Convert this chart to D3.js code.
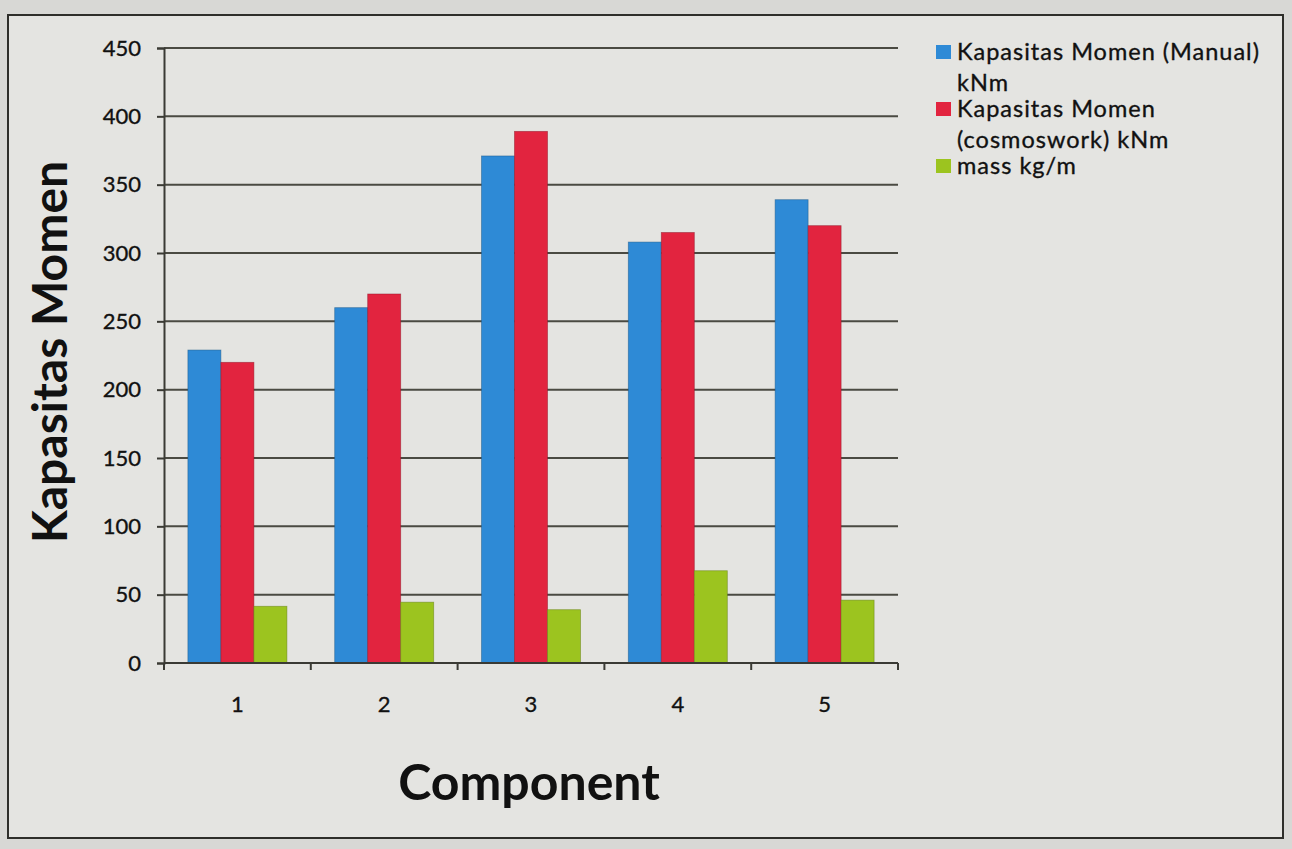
<!DOCTYPE html>
<html>
<head>
<meta charset="utf-8">
<script src="https://cdn.jsdelivr.net/npm/d3@7"></script>
<style>
  html, body { margin: 0; padding: 0; background: #d8d8d5; }
  svg { display: block; }
  text { font-family: Lato, "Open Sans", sans-serif; fill: #111; }
</style>
</head>
<body>
<svg id="chart" width="1292" height="849"></svg>
<script>
// Components along the x axis
const categories = ["1", "2", "3", "4", "5"];

// Series values
const manualMoment = [229, 260, 371, 308, 339];      // Kapasitas Momen (Manual) kNm
const cosmosMoment = [220, 270, 389, 315, 320];      // Kapasitas Momen (cosmoswork) kNm
const massPerMeter = [41.5, 44.5, 39, 67.5, 46];     // mass kg/m

// Y axis ticks
const yTicks = [0, 50, 100, 150, 200, 250, 300, 350, 400, 450];

const seriesNames = [
  ["Kapasitas Momen (Manual)", "kNm"],
  ["Kapasitas Momen", "(cosmoswork) kNm"],
  ["mass kg/m"]
];
const seriesColors = ["#2e8ad6", "#e2243f", "#9cc41f"];

const svg = d3.select("#chart");

// chart frame
svg.append("rect")
  .attr("x", 8).attr("y", 15)
  .attr("width", 1275).attr("height", 823)
  .attr("fill", "#e4e4e1")
  .attr("stroke", "#2e2e2a").attr("stroke-width", 2);

const plot = { left: 164, right: 898, top: 48, bottom: 663 };

const x0 = d3.scaleBand()
  .domain(categories)
  .range([plot.left, plot.right])
  .paddingInner(0).paddingOuter(0);

const barW = 33;
const x1 = d3.scaleBand()
  .domain([0, 1, 2])
  .range([0, barW * 3]);

const y = d3.scaleLinear()
  .domain([0, 450])
  .range([plot.bottom, plot.top]);

// gridlines
svg.append("g")
  .selectAll("line")
  .data(yTicks)
  .join("line")
  .attr("x1", plot.left).attr("x2", plot.right)
  .attr("y1", d => y(d)).attr("y2", d => y(d))
  .attr("stroke", "#4a4a42").attr("stroke-width", 2);

// bars
const groupOffset = (x0.bandwidth() - barW * 3) / 2;
const series = [manualMoment, cosmosMoment, massPerMeter];
series.forEach((vals, si) => {
  svg.append("g")
    .selectAll("rect")
    .data(vals)
    .join("rect")
    .attr("x", (d, i) => x0(categories[i]) + groupOffset + x1(si))
    .attr("y", d => y(d))
    .attr("width", x1.bandwidth())
    .attr("height", d => y(0) - y(d))
    .attr("fill", seriesColors[si])
    .attr("stroke", d3.color(seriesColors[si]).darker(1.2))
    .attr("stroke-width", 0.8)
    .attr("stroke-opacity", 0.6);
});

// y axis
const yAxis = d3.axisLeft(y)
  .tickValues(yTicks)
  .tickSize(7)
  .tickPadding(16)
  .tickFormat(d3.format("d"));
const gy = svg.append("g")
  .attr("transform", `translate(${plot.left},0)`)
  .call(yAxis);
gy.select(".domain").attr("stroke", "#3a3a34").attr("stroke-width", 2);
gy.selectAll(".tick line").attr("stroke", "#3a3a34").attr("stroke-width", 2);
gy.selectAll(".tick text")
  .attr("font-size", 22)
  .attr("font-family", "Lato, sans-serif")
  .attr("fill", "#111")
  .attr("stroke", "#111").attr("stroke-width", 0.35);

// x axis: ticks at group boundaries
const gx = svg.append("g")
  .attr("transform", `translate(0,${plot.bottom})`);
gx.append("line")
  .attr("x1", plot.left).attr("x2", plot.right)
  .attr("y1", 0).attr("y2", 0)
  .attr("stroke", "#3a3a34").attr("stroke-width", 2);
const boundaries = categories.map(c => x0(c)).concat([plot.right]);
gx.selectAll("line.bt")
  .data(boundaries)
  .join("line")
  .attr("class", "bt")
  .attr("x1", d => d).attr("x2", d => d)
  .attr("y1", 0).attr("y2", 7)
  .attr("stroke", "#3a3a34").attr("stroke-width", 2);
gx.selectAll("text")
  .data(categories)
  .join("text")
  .attr("x", d => x0(d) + x0.bandwidth() / 2)
  .attr("y", 49)
  .attr("text-anchor", "middle")
  .attr("font-size", 22)
  .attr("stroke", "#111").attr("stroke-width", 0.35)
  .text(d => d);

// axis titles
svg.append("text")
  .attr("transform", "translate(67,352) rotate(-90)")
  .attr("text-anchor", "middle")
  .attr("font-size", 48)
  .attr("font-weight", 700)
  .text("Kapasitas Momen");

svg.append("text")
  .attr("x", 529).attr("y", 800)
  .attr("text-anchor", "middle")
  .attr("font-size", 50)
  .attr("font-weight", 700)
  .text("Component");

// legend
const legend = svg.append("g").attr("transform", "translate(936,0)");
const legendRows = [45, 102, 159];
seriesNames.forEach((lines, i) => {
  const g = legend.append("g").attr("transform", `translate(0,${legendRows[i]})`);
  g.append("rect")
    .attr("x", 0).attr("y", 0)
    .attr("width", 15).attr("height", 14)
    .attr("fill", seriesColors[i]);
  lines.forEach((t, j) => {
    g.append("text")
      .attr("x", 21)
      .attr("y", 15 + j * 31)
      .attr("font-size", 23.5)
      .attr("letter-spacing", 1)
      .attr("stroke", "#111").attr("stroke-width", 0.35)
      .text(t);
  });
});
</script>
</body>
</html>
